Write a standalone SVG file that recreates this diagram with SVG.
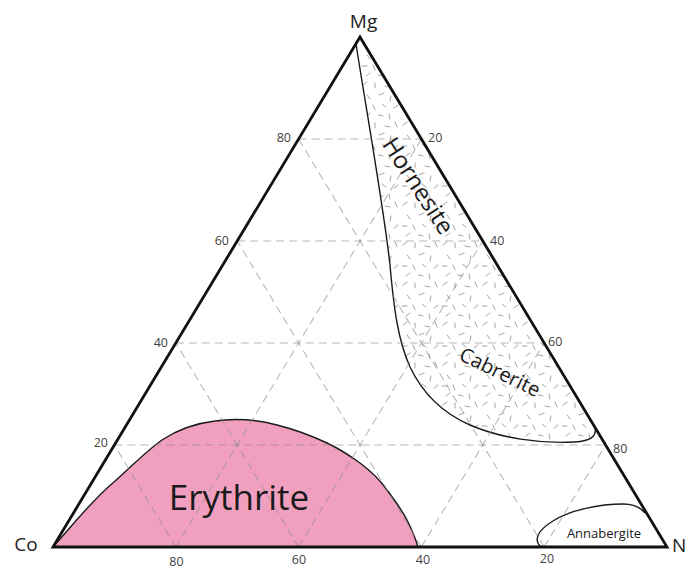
<svg xmlns="http://www.w3.org/2000/svg" width="691" height="570" viewBox="0 0 691 570">
<style>
.grid{stroke:#8a8a8a;stroke-opacity:0.6;stroke-width:1.1;stroke-dasharray:8 5;fill:none}
.tick{font-family:"Open Sans","Liberation Sans",Arial,sans-serif;font-size:12.5px;fill:#444}
.vert{font-family:"Open Sans","Liberation Sans",Arial,sans-serif;font-size:19px;fill:#222}
.lbl{font-family:"Open Sans","Liberation Sans",Arial,sans-serif;fill:#1a1a1a}
.outline{fill:none;stroke:#1a1a1a;stroke-width:1.4}
</style>
<defs>
<pattern id="stip" width="40" height="40" patternUnits="userSpaceOnUse">
<g stroke="#8c8c8c" stroke-width="0.8" stroke-linecap="round">
<line x1="3" y1="5" x2="7" y2="2"/><line x1="15" y1="3" x2="15" y2="8"/>
<line x1="25" y1="6" x2="30" y2="7"/><line x1="35" y1="2" x2="37" y2="7"/>
<line x1="7" y1="15" x2="10" y2="19"/><line x1="19" y1="15" x2="24" y2="13"/>
<line x1="31" y1="16" x2="30" y2="21"/><line x1="2" y1="26" x2="7" y2="26"/>
<line x1="13" y1="25" x2="15" y2="30"/><line x1="22" y1="24" x2="26" y2="27"/>
<line x1="34" y1="28" x2="38" y2="25"/><line x1="6" y1="36" x2="10" y2="33"/>
<line x1="18" y1="35" x2="23" y2="36"/><line x1="29" y1="34" x2="30" y2="39"/>
</g>
</pattern>
</defs>
<rect width="691" height="570" fill="#fff"/>

<g id="erythrite">
<path d="M53,547 C72,526 92,500 114,482 C130,468 145,452 162,440 C180,428 198,423 215,421 C235,418 258,420 277,425 C297,430 312,436 327,443 C342,450 350,456 360,463 C372,472 380,480 387,490 C396,502 402,510 407,520 C412,530 416,540 418,547 Z" fill="#F0A0BE"/>
<path class="outline" d="M53,547 C72,526 92,500 114,482 C130,468 145,452 162,440 C180,428 198,423 215,421 C235,418 258,420 277,425 C297,430 312,436 327,443 C342,450 350,456 360,463 C372,472 380,480 387,490 C396,502 402,510 407,520 C412,530 416,540 418,547"/>
</g>

<g id="hornesite-cabrerite">
<path d="M356,44 C368,120 384,210 390,265 C394,310 398,340 410,367 C422,392 440,412 470,425 C500,438 540,444 575,442 C590,441 597,437 595,427 L360,37 Z" fill="url(#stip)"/>
<path class="outline" d="M356,44 C368,120 384,210 390,265 C394,310 398,340 410,367 C422,392 440,412 470,425 C500,438 540,444 575,442 C590,441 597,437 595,427"/>
</g>

<g id="annabergite">
<path class="outline" d="M541,547 C533,540 538,530 553,521 C570,510 600,504 623,504 C635,504 641,508 645,513"/>
</g>

<g id="grid">
<line class="grid" x1="114.4" y1="445" x2="605.6" y2="445"/>
<line class="grid" x1="175.8" y1="343" x2="544.2" y2="343"/>
<line class="grid" x1="237.2" y1="241" x2="482.8" y2="241"/>
<line class="grid" x1="298.6" y1="139" x2="421.4" y2="139"/>
<line class="grid" x1="175.8" y1="547" x2="421.4" y2="139"/>
<line class="grid" x1="298.6" y1="547" x2="482.8" y2="241"/>
<line class="grid" x1="421.4" y1="547" x2="544.2" y2="343"/>
<line class="grid" x1="544.2" y1="547" x2="605.6" y2="445"/>
<line class="grid" x1="544.2" y1="547" x2="298.6" y2="139"/>
<line class="grid" x1="421.4" y1="547" x2="237.2" y2="241"/>
<line class="grid" x1="298.6" y1="547" x2="175.8" y2="343"/>
<line class="grid" x1="175.8" y1="547" x2="114.4" y2="445"/>
</g>

<g id="triangle">
<path d="M53,547 L360,37 L667,547 Z" fill="none" stroke="#111" stroke-width="2.8" stroke-linejoin="miter"/>
</g>

<g id="labels">
<text class="vert" x="363.5" y="28" text-anchor="middle">Mg</text>
<text class="vert" x="26" y="551" text-anchor="middle">Co</text>
<text class="vert" x="672" y="552">N</text>

<text class="tick" x="291" y="142" text-anchor="end">80</text>
<text class="tick" x="229" y="245" text-anchor="end">60</text>
<text class="tick" x="168" y="347" text-anchor="end">40</text>
<text class="tick" x="108" y="447" text-anchor="end">20</text>

<text class="tick" x="428" y="142">20</text>
<text class="tick" x="490" y="245">40</text>
<text class="tick" x="548" y="346">60</text>
<text class="tick" x="613" y="453">80</text>

<text class="tick" x="176.5" y="566" text-anchor="middle">80</text>
<text class="tick" x="299" y="564" text-anchor="middle">60</text>
<text class="tick" x="423" y="564" text-anchor="middle">40</text>
<text class="tick" x="547" y="563" text-anchor="middle">20</text>

<text class="lbl" x="239" y="510" font-size="35" text-anchor="middle">Erythrite</text>
<text class="lbl" font-size="24" text-anchor="middle" transform="translate(418,186) rotate(57)" y="8">Hornesite</text>
<text class="lbl" font-size="20" text-anchor="middle" transform="translate(500,372) rotate(26)" y="7">Cabrerite</text>
<text class="lbl" x="604" y="538" font-size="13" text-anchor="middle">Annabergite</text>
</g>
</svg>
